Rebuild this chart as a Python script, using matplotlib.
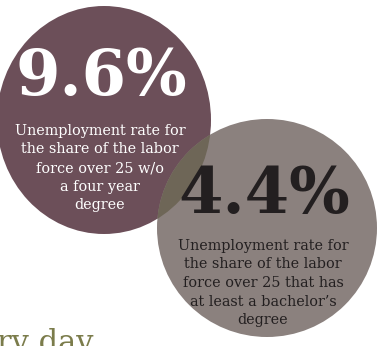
import matplotlib
matplotlib.use("Agg")
import matplotlib.pyplot as plt
from matplotlib.patches import Ellipse

# Data
rates = [9.6, 4.4]
rate_labels = ["9.6%", "4.4%"]
descriptions = [
    "Unemployment rate for\nthe share of the labor\nforce over 25 w/o\na four year\ndegree",
    "Unemployment rate for\nthe share of the labor\nforce over 25 that has\nat least a bachelor\u2019s\ndegree",
]
fill_colors = ["#6c4f59", "#8b817e"]
text_colors = ["#ffffff", "#231f20"]
overlap_color = "#6e6657"
footer_text = "ry day"

# Layout (pixel coordinates)
centers = [(104, 120), (267, 228)]
sizes = [(214, 228), (220, 218)]
num_y = [78, 195]
desc_y = [168, 283]

fig = plt.figure(figsize=(3.84, 3.46), dpi=100)
ax = fig.add_axes([0, 0, 1, 1])
ax.set_xlim(0, 384)
ax.set_ylim(346, 0)
ax.axis("off")

e1 = Ellipse(centers[0], sizes[0][0], sizes[0][1], color=fill_colors[0], lw=0, zorder=1)
e2 = Ellipse(centers[1], sizes[1][0], sizes[1][1], color=fill_colors[1], lw=0, zorder=2)
ax.add_patch(e1)
ax.add_patch(e2)
ov = Ellipse(centers[0], sizes[0][0], sizes[0][1], color=overlap_color, lw=0, zorder=3)
ax.add_patch(ov)
ov.set_clip_path(e2)

for i in range(2):
    cx = centers[i][0] - 3
    ax.text(cx, num_y[i], rate_labels[i], ha="center", va="center",
            fontsize=46, fontweight="bold", family="DejaVu Serif",
            color=text_colors[i], zorder=5)
    ax.text(cx - 1, desc_y[i], descriptions[i], ha="center", va="center",
            fontsize=10.4, family="DejaVu Serif", color=text_colors[i],
            linespacing=1.42, zorder=5)

ax.text(-3, 352, footer_text, ha="left", va="baseline", fontsize=22,
        family="DejaVu Serif", color="#7b7c4b", zorder=5)

fig.savefig("out.png", dpi=100)
